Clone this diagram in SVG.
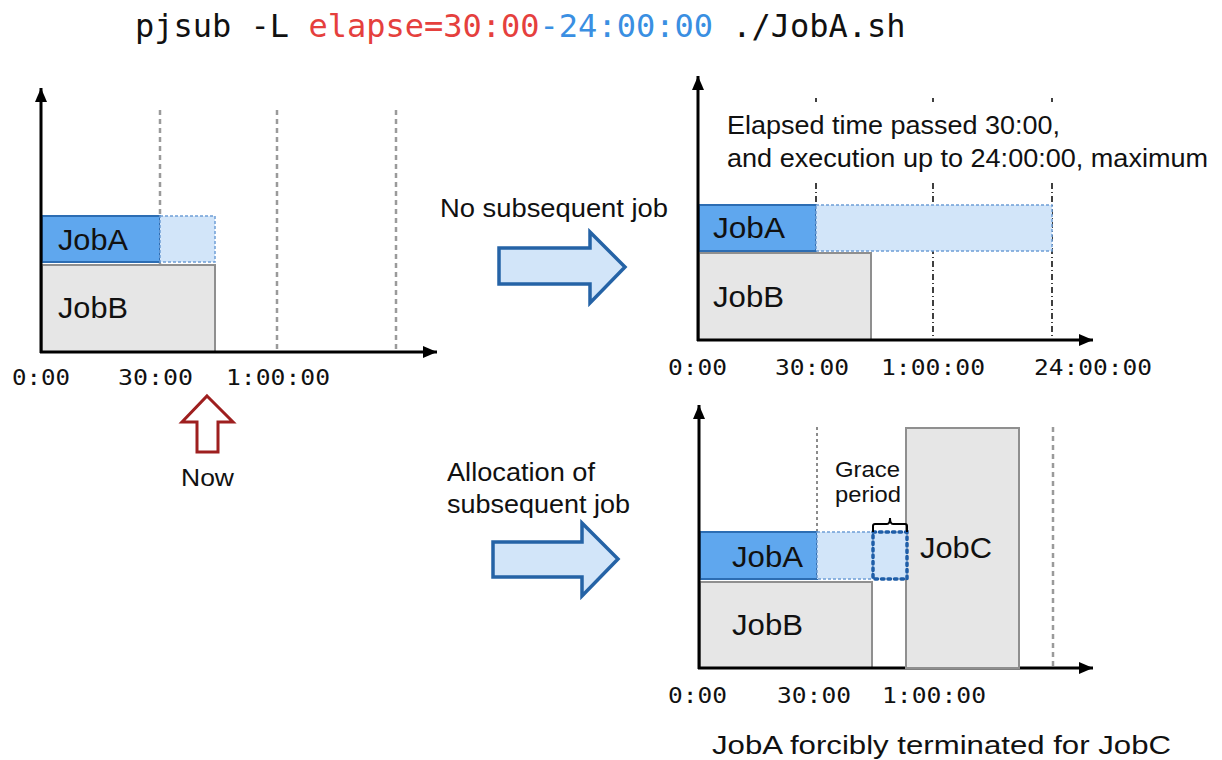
<svg xmlns="http://www.w3.org/2000/svg" width="1222" height="760" viewBox="0 0 1222 760">
<defs>
<marker id="ah" markerUnits="userSpaceOnUse" markerWidth="14" markerHeight="12" refX="14" refY="6" orient="auto">
<path d="M0,0 L14,6 L0,12 z" fill="#000"/>
</marker>
<style>
.sans{font-family:"Liberation Sans",Arial,sans-serif;fill:#111}
.mono{font-family:"DejaVu Sans Mono","Liberation Mono",monospace;fill:#111}
.lbl{font-size:21px}
.job{font-size:30px}
.note{font-size:25px}
.ja{fill:#5fa7ee;stroke:#2c6db3;stroke-width:2}
.jx{fill:#d2e5f9;stroke:#6f9fd6;stroke-width:1.5;stroke-dasharray:3 2}
.jb{fill:#e6e6e6;stroke:#8f8f8f;stroke-width:2}
.axis{stroke:#000;stroke-width:3;fill:none}
.gl{stroke:#9a9a9a;stroke-width:2.5;stroke-dasharray:5 4;fill:none}
.bl{stroke:#000;stroke-width:1.5;stroke-dasharray:6 3 1 3;fill:none}
.thin{stroke:#666;stroke-width:1.5;stroke-dasharray:3 3;fill:none}
.bigarrow{fill:#d2e5f9;stroke:#2563a6;stroke-width:3.5;stroke-linejoin:miter}
</style>
</defs>
<rect width="1222" height="760" fill="#fff"/>

<!-- title -->
<g id="title">
<text class="mono" x="135" y="37" font-size="32" style="white-space:pre"><tspan fill="#111">pjsub -L </tspan><tspan fill="#e5403d">elapse=30:00</tspan><tspan fill="#3a8fe2">-24:00:00</tspan><tspan fill="#111"> ./JobA.sh</tspan></text>
</g>

<!-- left chart -->
<g id="chart-now">
<line class="gl" x1="160" y1="110" x2="160" y2="352"/>
<line class="gl" x1="277" y1="110" x2="277" y2="352"/>
<line class="gl" x1="396" y1="110" x2="396" y2="352"/>
<g id="now-jobA"><rect class="ja" x="42" y="216" width="118" height="46"/>
<text class="sans job" x="58" y="250" textLength="70" lengthAdjust="spacingAndGlyphs">JobA</text></g>
<rect class="jx" x="160" y="216" width="55" height="46"/>
<g id="now-jobB"><rect class="jb" x="42" y="265" width="173" height="87"/>
<text class="sans job" x="58" y="318" textLength="70" lengthAdjust="spacingAndGlyphs">JobB</text></g>
<line class="axis" x1="41" y1="353" x2="41" y2="88" marker-end="url(#ah)"/>
<line class="axis" x1="40" y1="352" x2="437" y2="352" marker-end="url(#ah)"/>
<text class="mono lbl" x="12" y="385" textLength="58" lengthAdjust="spacingAndGlyphs">0:00</text>
<text class="mono lbl" x="118" y="385" textLength="75" lengthAdjust="spacingAndGlyphs">30:00</text>
<text class="mono lbl" x="226" y="385" textLength="104" lengthAdjust="spacingAndGlyphs">1:00:00</text>
</g>

<g id="now-marker">
<path d="M207,396 L233,422 L218,422 L218,452 L197,452 L197,422 L182,422 Z" fill="#fff" stroke="#9e1f1f" stroke-width="3" stroke-linejoin="miter"/>
<text class="sans" font-size="24" x="181" y="486" textLength="53" lengthAdjust="spacingAndGlyphs">Now</text>
</g>

<!-- connectors -->
<g id="connectors">
<path class="bigarrow" d="M499,248 L590,248 L590,232 L625,267 L590,303 L590,284 L499,284 Z"/>
<path class="bigarrow" d="M493,542 L582,542 L582,523 L618,559 L582,596 L582,577 L493,577 Z"/>
<text class="sans note" x="440" y="217" textLength="228" lengthAdjust="spacingAndGlyphs">No subsequent job</text>
<text class="sans note" x="447" y="481" textLength="148" lengthAdjust="spacingAndGlyphs">Allocation of</text>
<text class="sans note" x="447" y="513" textLength="183" lengthAdjust="spacingAndGlyphs">subsequent job</text>
</g>

<!-- top right chart -->
<g id="chart-nosub">
<g class="bl">
<line x1="816" y1="98" x2="816" y2="102"/><line x1="816" y1="183" x2="816" y2="340"/>
<line x1="933" y1="98" x2="933" y2="102"/><line x1="933" y1="183" x2="933" y2="340"/>
<line x1="1052" y1="98" x2="1052" y2="102"/><line x1="1052" y1="183" x2="1052" y2="340"/>
</g>
<text class="sans note" x="727" y="134" textLength="333" lengthAdjust="spacingAndGlyphs">Elapsed time passed 30:00,</text>
<text class="sans note" x="727" y="167" textLength="481" lengthAdjust="spacingAndGlyphs">and execution up to 24:00:00, maximum</text>
<g id="nosub-jobA"><rect class="ja" x="699" y="205" width="117" height="46"/>
<text class="sans job" x="713" y="238" textLength="72" lengthAdjust="spacingAndGlyphs">JobA</text></g>
<rect class="jx" x="816" y="205" width="236" height="46"/>
<g id="nosub-jobB"><rect class="jb" x="699" y="253" width="172" height="87"/>
<text class="sans job" x="713" y="307" textLength="71" lengthAdjust="spacingAndGlyphs">JobB</text></g>
<line class="axis" x1="698" y1="341" x2="698" y2="76" marker-end="url(#ah)"/>
<line class="axis" x1="697" y1="340" x2="1093" y2="340" marker-end="url(#ah)"/>
<text class="mono lbl" x="668" y="375" textLength="59" lengthAdjust="spacingAndGlyphs">0:00</text>
<text class="mono lbl" x="775" y="375" textLength="74" lengthAdjust="spacingAndGlyphs">30:00</text>
<text class="mono lbl" x="881" y="375" textLength="104" lengthAdjust="spacingAndGlyphs">1:00:00</text>
<text class="mono lbl" x="1034" y="375" textLength="118" lengthAdjust="spacingAndGlyphs">24:00:00</text>
</g>

<!-- bottom right chart -->
<g id="chart-alloc">
<line class="thin" x1="817" y1="427" x2="817" y2="668"/>
<line class="gl" x1="1053" y1="427" x2="1053" y2="668"/>
<g id="alloc-jobA"><rect class="ja" x="700" y="532" width="117" height="47"/>
<text class="sans job" x="732" y="567" textLength="71" lengthAdjust="spacingAndGlyphs">JobA</text></g>
<rect class="jx" x="817" y="532" width="56" height="47"/>
<g id="alloc-jobB"><rect class="jb" x="700" y="582" width="172" height="86"/>
<text class="sans job" x="732" y="635" textLength="71" lengthAdjust="spacingAndGlyphs">JobB</text></g>
<line class="axis" x1="699" y1="669" x2="699" y2="405" marker-end="url(#ah)"/>
<line class="axis" x1="698" y1="668" x2="1093" y2="668" marker-end="url(#ah)"/>
<g id="alloc-jobC"><rect class="jb" x="906" y="428" width="113" height="240"/>
<text class="sans job" x="920" y="558" textLength="72" lengthAdjust="spacingAndGlyphs">JobC</text></g>
<g id="grace">
<rect x="873" y="532" width="34" height="47" fill="#d2e5f9" stroke="#1f5ea8" stroke-width="3.5" stroke-dasharray="2.5 4" stroke-linecap="round"/>
<path d="M873,532 V526 Q873,524 875,524 H887 Q890,524 890,518 Q890,524 893,524 H905 Q907,524 907,526 V532" fill="none" stroke="#000" stroke-width="2"/>
<text class="sans" font-size="22" x="835" y="477" textLength="65" lengthAdjust="spacingAndGlyphs">Grace</text>
<text class="sans" font-size="22" x="835" y="502" textLength="66" lengthAdjust="spacingAndGlyphs">period</text>
</g>
<text class="mono lbl" x="668" y="703" textLength="59" lengthAdjust="spacingAndGlyphs">0:00</text>
<text class="mono lbl" x="777" y="703" textLength="74" lengthAdjust="spacingAndGlyphs">30:00</text>
<text class="mono lbl" x="882" y="703" textLength="104" lengthAdjust="spacingAndGlyphs">1:00:00</text>
<text class="sans" font-size="26" x="712" y="754" textLength="459" lengthAdjust="spacingAndGlyphs">JobA forcibly terminated for JobC</text>
</g>
</svg>
